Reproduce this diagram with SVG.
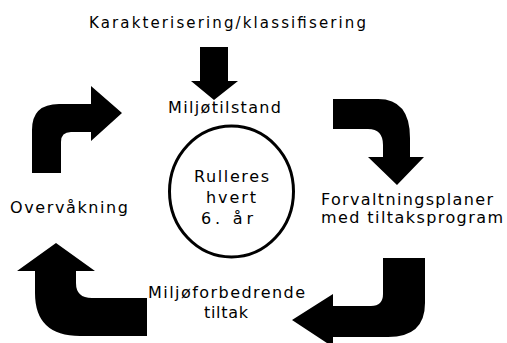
<svg xmlns="http://www.w3.org/2000/svg" width="507" height="343" viewBox="0 0 507 343">
<style>
text{font-family:"DejaVu Sans","Liberation Sans",sans-serif;font-size:16px;fill:#000}
.t15{font-size:15px}
.arrow{fill:#000;stroke:none}
</style>
<rect width="507" height="343" fill="#fff"/>
<g id="connectors">
<path class="arrow" d="M200,47 L228,47 L228,81 L238,81 L214,100 L191,81 L200,81 Z"/>
<path class="arrow" d="M333,99 L378,99 Q410,99 410,138 L410,157 L424,157 L397,185 L368,157 L383,157 L383,145 Q383,129 368,129 L333,129 Z"/>
<path class="arrow" d="M383,258 L425,258 L425,303 Q425,337 388,337 L333,337 L333,347 L292,320 L333,294 L333,306 L371,306 Q383,306 383,294 Z"/>
<path class="arrow" d="M56,243 L95,271 L76,271 L76,283 Q76,298 92,298 L147,298 L147,336 L80,336 Q35,336 35,293 L35,271 L17,271 Z"/>
<path class="arrow" d="M32,173 L32,130 Q32,104 59,104 L91,104 L91,86 L122,113 L91,141 L91,132 L71,132 Q61,132 61,142 L61,173 Z"/>
</g>
<g id="title"><text class="t15" x="89" y="28" textLength="277" lengthAdjust="spacing">Karakterisering/klassifisering</text></g>
<g id="miljotilstand"><text x="168" y="113" textLength="113" lengthAdjust="spacing">Miljøtilstand</text></g>
<g id="rulleres">
<ellipse cx="231.5" cy="191.5" rx="62" ry="65.5" fill="none" stroke="#000" stroke-width="3"/>
<text x="194" y="182" textLength="75" lengthAdjust="spacing">Rulleres</text>
<text x="206" y="203" textLength="50" lengthAdjust="spacing">hvert</text>
<text x="201" y="224" textLength="52" lengthAdjust="spacing">6. år</text>
</g>
<g id="forvaltningsplaner">
<text x="321" y="205" textLength="172" lengthAdjust="spacing">Forvaltningsplaner</text>
<text x="321" y="223" textLength="182" lengthAdjust="spacing">med tiltaksprogram</text>
</g>
<g id="miljoforbedrende">
<text x="148" y="298" textLength="157" lengthAdjust="spacing">Miljøforbedrende</text>
<text x="204" y="318" textLength="44" lengthAdjust="spacing">tiltak</text>
</g>
<g id="overvakning"><text x="10" y="213" textLength="118" lengthAdjust="spacing">Overvåkning</text></g>
</svg>
